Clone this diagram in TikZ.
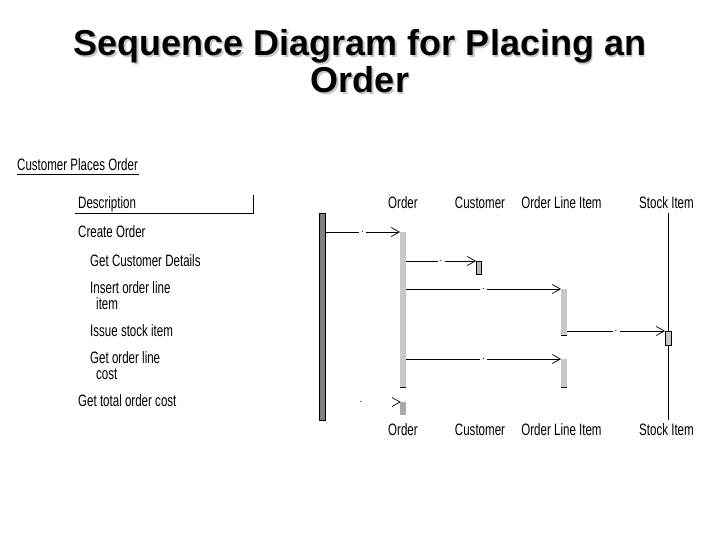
\documentclass[tikz,border=0pt]{standalone}
\usepackage{fontspec}
\setmainfont{Liberation Sans}
\newfontfamily\narrowf[FakeStretch=0.70]{Liberation Sans}
\usetikzlibrary{arrows.meta}
\definecolor{actordark}{HTML}{808080}
\definecolor{actlight}{HTML}{C8C8C8}
\definecolor{actmid}{HTML}{A8A8A8}
\definecolor{actbox}{HTML}{B8B8B8}
\begin{document}
\begin{tikzpicture}[x=1pt,y=-1pt,
  titlef/.style={font=\bfseries\fontsize{36}{36}\selectfont, inner sep=0pt, anchor=base},
  lbl/.style={font=\narrowf\fontsize{16.5}{16.5}\selectfont, inner sep=0pt, anchor=base west},
  life/.style={font=\narrowf\fontsize{16.5}{16.5}\selectfont, inner sep=0pt, anchor=base},
  actbar/.style={inner sep=0pt, outer sep=0pt, minimum width=6pt, anchor=north west},
  msg/.style={line width=0.9pt, -{Straight Barb[length=8pt,width=9pt,line width=0.7pt]}},
  seqn/.style={fill=white, inner sep=0pt, minimum width=7pt, minimum height=6pt, font=\fontsize{10}{10}\selectfont},
  tick/.style={line width=0.9pt}
]
\useasboundingbox (0,0) rectangle (720,540);
\fill[white] (0,0) rectangle (720,540);

% title
\node[titlef, text=gray!45] (t1s) at (361.5,57.5) {Sequence Diagram for Placing an};
\node[titlef, text=gray!45] (t2s) at (361.5,94.5) {Order};
\node[titlef] (t1) at (360,56) {Sequence Diagram for Placing an};
\node[titlef] (t2) at (360,93) {Order};

% left description column
\node[lbl] (cpo) at (17,171) {Customer Places Order};
\draw[line width=0.8pt] (cpo.base west) ++(0,3) -- ++(122,0);
\node[lbl] (desc) at (78,209) {Description};
\draw[line width=0.9pt] (75,213) -- (253,213) -- (253,195);
\node[lbl] (d1) at (78,237) {Create Order};
\node[lbl] (d2) at (90,266) {Get Customer Details};
\node[lbl] (d3a) at (90,293) {Insert order line};
\node[lbl] (d3b) at (96,309) {item};
\node[lbl] (d4) at (90,336) {Issue stock item};
\node[lbl] (d5a) at (90,363) {Get order line};
\node[lbl] (d5b) at (96,379.5) {cost};
\node[lbl] (d6) at (78,406) {Get total order cost};

% lifeline headers
\node[life] (hOrd) at (403,209) {Order};
\node[life] (hCus) at (480,209) {Customer};
\node[life] (hOLI) at (561.5,209) {Order Line Item};
\node[life] (hStk) at (666.5,209) {Stock Item};
\node[life] (fOrd) at (403,435) {Order};
\node[life] (fCus) at (480,435) {Customer};
\node[life] (fOLI) at (561.5,435) {Order Line Item};
\node[life] (fStk) at (666.5,435) {Stock Item};

% stock item lifeline
\coordinate (stkTop) at (668,213);
\coordinate (stkBot) at (668,420);
\draw[line width=0.9pt] (stkTop) -- (stkBot);

% actor bar and activations
\node[actbar, fill=actordark, draw=black, line width=0.8pt, minimum height=207pt] (actor) at (319.5,213) {};
\node[actbar, fill=actlight, minimum height=155pt] (oact) at (400,232) {};
\draw[tick] (oact.south west) -- (oact.south east);
\node[actbar, fill=actmid, minimum height=13pt] (oact2) at (400,402) {};
\node[actbar, fill=actbox, draw=black, line width=0.8pt, minimum width=5pt, minimum height=13pt] (cact) at (476,261) {};
\node[actbar, fill=actlight, minimum height=46pt] (oli1) at (561,289) {};
\draw[tick] (oli1.south west) -- (oli1.south east);
\node[actbar, fill=actlight, minimum height=28pt] (oli2) at (561,359) {};
\draw[tick] (oli2.south west) -- (oli2.south east);
\node[actbar, fill=actlight, draw=black, line width=0.8pt, minimum width=6pt, minimum height=14pt] (sact) at (665,331) {};

% messages
\draw[msg] (actor.east |- oact.north) -- node[seqn] (m1) {.} (oact.north west);
\draw[msg] (oact.east |- cact.north) -- node[seqn] (m2) {.} (cact.north west);
\draw[msg] (oact.east |- oli1.north) -- node[seqn] (m3) {.} (oli1.north west);
\draw[msg] (oli1.east |- sact.north) -- node[seqn] (m4) {.} (sact.north west);
\draw[msg] (oact.east |- oli2.north) -- node[seqn] (m5) {.} (oli2.north west);
% final message: only its head and number are shown
\node[seqn] (m6) at (361,402) {.};
\draw[line width=0.7pt] (oact2.north west) ++(-8,-4.5) -- (oact2.north west) -- ++(-8,4.5);
\end{tikzpicture}
\end{document}
